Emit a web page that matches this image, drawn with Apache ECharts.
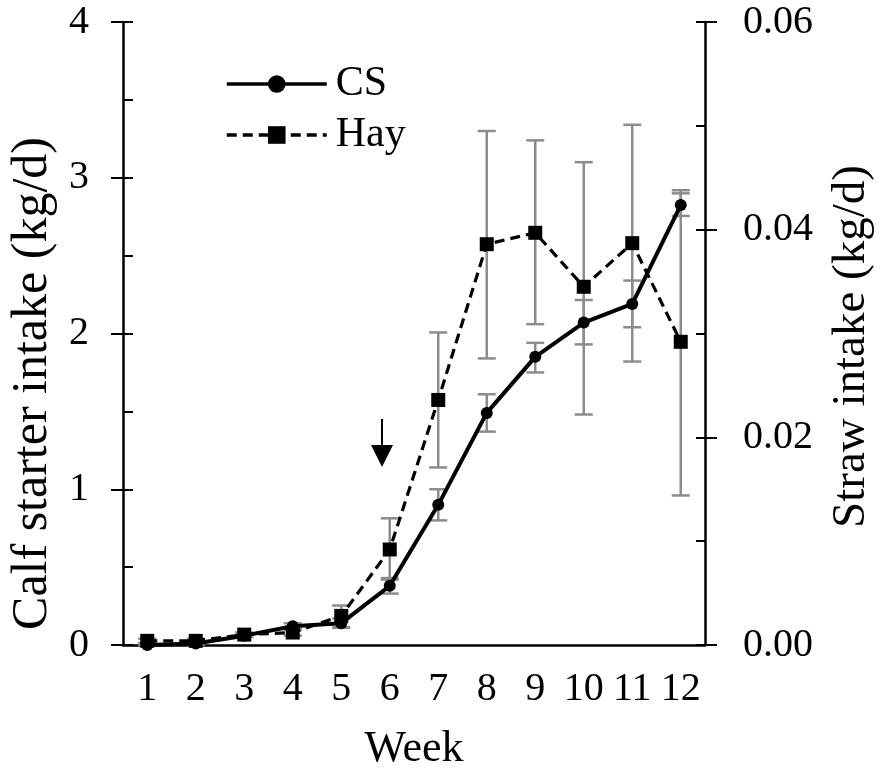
<!doctype html>
<html lang="en">
<head>
    <meta charset="utf-8">
    <title>intake</title>
    <script src="https://cdn.jsdelivr.net/npm/echarts@6/dist/echarts.min.js"></script>
    <style>
        *{margin:0;padding:0}
        html,body{width:100%;height:100%;background:#fff}
        #main{width:883px;height:776px}
    </style>
</head>
<body>
<div id="main"></div>
<script type="text/javascript">
    // weeks on x
    var weeks = ['1','2','3','4','5','6','7','8','9','10','11','12'];

    // calf starter (kg/d), left axis
    var csVal  = [0.00, 0.01, 0.06, 0.12, 0.14, 0.38, 0.90, 1.49, 1.85, 2.07, 2.19, 2.825];
    var csLow  = [0.00, 0.00, 0.05, 0.10, 0.11, 0.33, 0.80, 1.37, 1.75, 1.93, 2.04, 2.755];
    var csHigh = [0.01, 0.02, 0.07, 0.14, 0.17, 0.43, 1.00, 1.61, 1.94, 2.215, 2.34, 2.90];

    // hay / straw (kg/d), right axis
    var hayVal  = [0.0004, 0.0004, 0.0010, 0.0012, 0.0028, 0.0092, 0.0236, 0.0386, 0.0397, 0.0345, 0.0387, 0.0292];
    var hayLow  = [0.0002, 0.0002, 0.0008, 0.0009, 0.0017, 0.0063, 0.0171, 0.0276, 0.0309, 0.0222, 0.0273, 0.0144];
    var hayHigh = [0.0006, 0.0006, 0.0012, 0.0015, 0.0038, 0.0122, 0.0301, 0.0495, 0.0486, 0.0465, 0.0501, 0.0438];

    var leftTicks = [0, 1, 2, 3, 4];
    var rightTicks = ['0.00', '0.02', '0.04', '0.06'];

    var FONT = 'Liberation Serif';
    var myChart = echarts.init(document.getElementById('main'));

    function errorBars(lows, highs, yIdx, name) {
        return {
            name: name,
            type: 'custom',
            yAxisIndex: yIdx,
            z: 1,
            silent: true,
            encode: {x: 0, y: [1, 2]},
            renderItem: function(params, api) {
                var i = api.value(0);
                var lo = api.coord([i, api.value(1)]);
                var hi = api.coord([i, api.value(2)]);
                var hw = 9;
                var st = {stroke: '#8c8c8c', lineWidth: 2.5};
                return {
                    type: 'group',
                    children: [
                        {type: 'line', shape: {x1: lo[0], y1: lo[1], x2: hi[0], y2: hi[1]}, style: st},
                        {type: 'line', shape: {x1: lo[0] - hw, y1: lo[1], x2: lo[0] + hw, y2: lo[1]}, style: st},
                        {type: 'line', shape: {x1: hi[0] - hw, y1: hi[1], x2: hi[0] + hw, y2: hi[1]}, style: st}
                    ]
                };
            },
            data: weeks.map(function(w, i) { return [i, lows[i], highs[i]]; })
        };
    }

    var axisTxt = {fontFamily: FONT, fontSize: 40, color: '#000'};

    var option = {
        animation: false,
        textStyle: {fontFamily: FONT},
        grid: {left: 123, right: 175, top: 22, bottom: 123},
        legend: {
            data: ['CS', 'Hay'],
            orient: 'vertical',
            left: 220,
            top: 58,
            itemWidth: 100,
            itemHeight: 22,
            itemGap: 9,
            lineStyle: {width: 3.5},
            textStyle: {fontFamily: FONT, fontSize: 42, color: '#000', padding: [0, 0, 0, 4]}
        },
        xAxis: {
            type: 'category',
            data: weeks,
            name: 'Week',
            nameLocation: 'middle',
            nameGap: 82,
            nameTextStyle: {fontFamily: FONT, fontSize: 44, color: '#000'},
            axisLine: {lineStyle: {color: '#000', width: 2.5}},
            axisTick: {inside: true, length: 10, interval: 0, lineStyle: {width: 2}},
            axisLabel: Object.assign({interval: 0, margin: 24}, axisTxt),
            splitLine: {show: false}
        },
        yAxis: [
            {
                type: 'value', position: 'left', min: 0, max: 4, interval: 0.5,
                name: 'Calf starter intake (kg/d)',
                nameLocation: 'middle', nameRotate: 90, nameGap: 64,
                nameTextStyle: {fontFamily: FONT, fontSize: 50, color: '#000', padding: [0, 100, 0, 0]},
                axisLine: {show: true, lineStyle: {color: '#000', width: 2.5}},
                axisTick: {show: true, inside: true, length: 10, lineStyle: {width: 2}},
                axisLabel: Object.assign({
                    margin: 34,
                    formatter: function(v) { return leftTicks.indexOf(v) > -1 ? String(v) : ''; }
                }, axisTxt),
                splitLine: {show: false}
            },
            {
                type: 'value', position: 'left', min: 0, max: 4, interval: 1,
                axisLine: {show: false},
                axisTick: {show: true, inside: false, length: 12, lineStyle: {color: '#000', width: 2}},
                axisLabel: {show: false},
                splitLine: {show: false}
            },
            {
                type: 'value', position: 'right', min: 0, max: 0.06, interval: 0.01,
                name: 'Straw intake (kg/d)',
                nameLocation: 'middle', nameRotate: 90, nameGap: 123,
                nameTextStyle: {fontFamily: FONT, fontSize: 47, color: '#000', padding: [0, 26, 0, 0]},
                axisLine: {show: true, lineStyle: {color: '#000', width: 2.5}},
                axisTick: {show: true, inside: true, length: 9, lineStyle: {width: 2}},
                axisLabel: Object.assign({
                    margin: 38,
                    formatter: function(v) {
                        var s = v.toFixed(2);
                        return rightTicks.indexOf(s) > -1 ? s : '';
                    }
                }, axisTxt),
                splitLine: {show: false}
            },
            {
                type: 'value', position: 'right', min: 0, max: 0.06, interval: 0.02,
                axisLine: {show: false},
                axisTick: {show: true, inside: false, length: 12, lineStyle: {color: '#000', width: 2}},
                axisLabel: {show: false},
                splitLine: {show: false}
            }
        ],
        series: [
            errorBars(hayLow, hayHigh, 2, 'hayErr'),
            errorBars(csLow, csHigh, 0, 'csErr'),
            {
                name: 'Hay',
                type: 'line',
                yAxisIndex: 2,
                z: 3,
                data: hayVal,
                symbol: 'rect',
                symbolSize: 14,
                itemStyle: {color: '#000'},
                lineStyle: {color: '#000', width: 3.2, type: [10, 6]}
            },
            {
                name: 'CS',
                type: 'line',
                yAxisIndex: 0,
                z: 4,
                data: csVal,
                symbol: 'circle',
                symbolSize: 12,
                itemStyle: {color: '#000'},
                lineStyle: {color: '#000', width: 4}
            }
        ],
        graphic: [
            // weaning arrow
            {type: 'line', shape: {x1: 382, y1: 419, x2: 382, y2: 450}, style: {stroke: '#000', lineWidth: 2}},
            {type: 'polygon', shape: {points: [[371, 445], [393, 445], [382, 467]]}, style: {fill: '#000'}}
        ]
    };
    myChart.setOption(option);
</script>
</body>
</html>
